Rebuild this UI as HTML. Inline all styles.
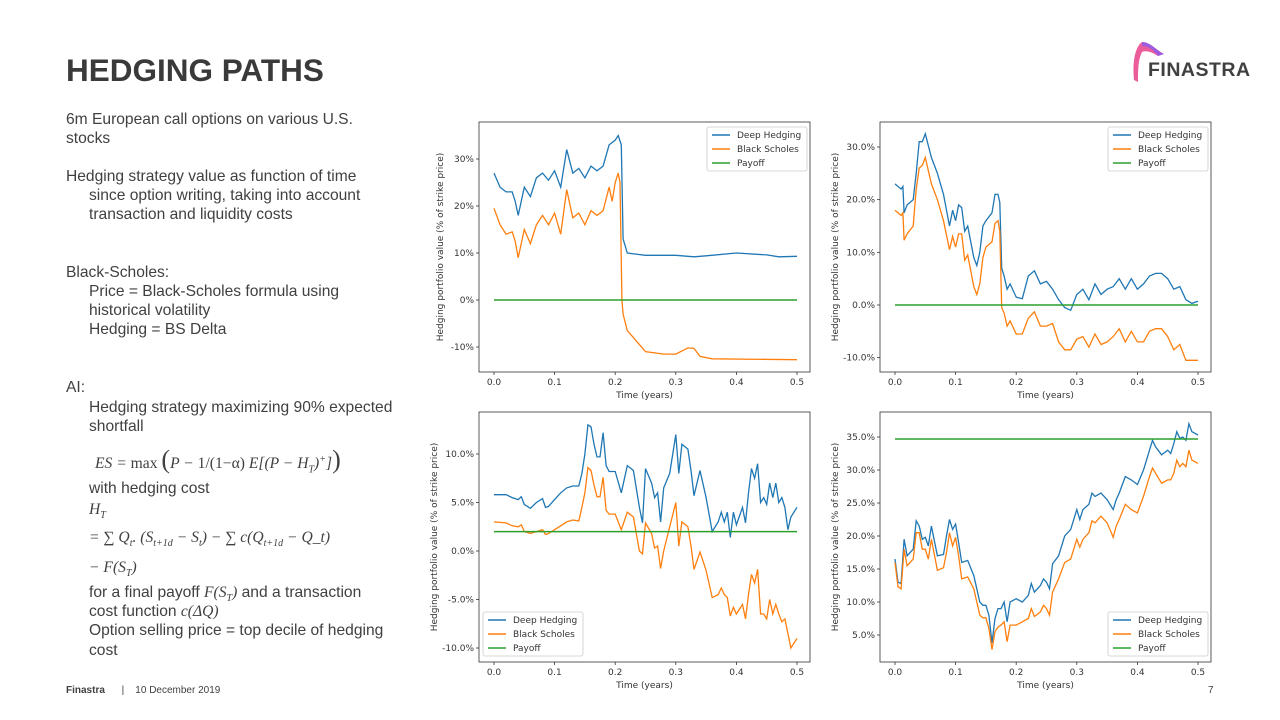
<!DOCTYPE html>
<html><head><meta charset="utf-8"><style>
body{margin:0;width:1280px;height:720px;background:#fff;position:relative;overflow:hidden;font-family:"Liberation Sans",sans-serif;color:#404040}
.t{position:absolute;font-size:15.6px;line-height:18px;white-space:nowrap}
.m{font-family:"Liberation Serif",serif;font-style:italic}
svg text{font-family:"DejaVu Sans","Liberation Sans",sans-serif}
</style></head><body>
<div style="position:absolute;left:66px;top:52px;font-size:31.5px;font-weight:bold;color:#3a3a3a">HEDGING PATHS</div>
<div style="position:absolute;left:1128px;top:40px;width:130px;height:45px">
<svg width="130" height="45"><path d="M6 40 C4 20 8 6 14 2 C22 2 28 10 36 14 L30 16 C24 12 18 10 14 12 C10 20 10 30 10 42 Z" fill="#e8408a" opacity="0.85"/><path d="M14 2 C22 2 28 10 36 14 L30 16 C26 10 20 6 14 6Z" fill="#8a5cf0" opacity="0.8"/></svg>
<div style="position:absolute;left:20px;top:19px;font-size:19.5px;font-weight:bold;color:#404040;letter-spacing:0.5px">FINASTRA</div></div>

<div>
<div class="t" style="left:66px;top:111px">6m European call options on various U.S.</div>
<div class="t" style="left:66px;top:130px">stocks</div>
<div class="t" style="left:66px;top:168px">Hedging strategy value as function of time</div>
<div class="t" style="left:89px;top:187px">since option writing, taking into account</div>
<div class="t" style="left:89px;top:206px">transaction and liquidity costs</div>
<div class="t" style="left:66px;top:264px">Black-Scholes:</div>
<div class="t" style="left:89px;top:283px">Price = Black-Scholes formula using</div>
<div class="t" style="left:89px;top:302px">historical volatility</div>
<div class="t" style="left:89px;top:321px">Hedging = BS Delta</div>
<div class="t" style="left:66px;top:379px">AI:</div>
<div class="t" style="left:89px;top:399px">Hedging strategy maximizing 90% expected</div>
<div class="t" style="left:89px;top:418px">shortfall</div>
<div class="t m" style="left:95px;top:451px">ES = <span style="font-style:normal">max</span> <span style="font-size:26px;font-style:normal">(</span>P − <span style="font-style:normal">1/(1−α)</span> E[(P − H<sub style="font-size:10px">T</sub>)<sup style="font-size:10px">+</sup>]<span style="font-size:26px;font-style:normal">)</span></div>
<div class="t" style="left:89px;top:480px">with hedging cost</div>
<div class="t m" style="left:89px;top:501px">H<sub style="font-size:10px">T</sub></div>
<div class="t m" style="left:89px;top:529px">= ∑ Q<sub style="font-size:10px">t</sub>. (S<sub style="font-size:10px">t+1d</sub> − S<sub style="font-size:10px">t</sub>) − ∑ c(Q<sub style="font-size:10px">t+1d</sub> − Q_t)</div>
<div class="t m" style="left:89px;top:559px">− F(S<sub style="font-size:10px">T</sub>)</div>
<div class="t" style="left:89px;top:584px">for a final payoff <span class="m">F(S<sub style="font-size:10px">T</sub>)</span> and a transaction</div>
<div class="t" style="left:89px;top:603px">cost function <span class="m">c(ΔQ)</span></div>
<div class="t" style="left:89px;top:622px">Option selling price = top decile of hedging</div>
<div class="t" style="left:89px;top:642px">cost</div>
</div>
<div style="position:absolute;left:66px;top:685px;font-size:10px;color:#404040"><b>Finastra</b>&nbsp;&nbsp;&nbsp;&nbsp;&nbsp;&nbsp;|&nbsp;&nbsp;&nbsp;&nbsp;10 December 2019</div>
<div style="position:absolute;left:1208px;top:685px;font-size:10px">7</div>

<svg id="charts" width="1280" height="720" style="position:absolute;left:0;top:0"></svg>
<script>
const xTicks=[0,0.1,0.2,0.3,0.4,0.5];
const c1DhT=[0,0.01,0.02,0.03,0.035,0.04,0.05,0.06,0.07,0.08,0.09,0.10,0.11,0.12,0.13,0.14,0.15,0.16,0.17,0.18,0.19,0.20,0.205,0.21,0.213,0.22,0.25,0.3,0.33,0.35,0.4,0.45,0.47,0.5];
const c1DhV=[27,24,23,23,21,18,24,22,26,27,25.5,27.5,24,32,27,28,26,28.5,27.5,28.5,33,34,35,33,13,10,9.5,9.5,9.2,9.4,10,9.6,9.2,9.3];
const c1BsT=[0,0.01,0.02,0.03,0.035,0.04,0.05,0.06,0.07,0.08,0.09,0.10,0.11,0.12,0.13,0.14,0.15,0.16,0.17,0.18,0.19,0.195,0.20,0.205,0.208,0.211,0.213,0.22,0.23,0.24,0.25,0.28,0.30,0.32,0.33,0.34,0.36,0.5];
const c1BsV=[19.5,16,14,14.5,12.5,9,15,12,16,18,16,18.5,14,23.5,17.5,18.5,16,19,18,19,24,21,25,27,25,0,-3,-6.5,-8,-9.5,-11,-11.5,-11.5,-10.2,-10.3,-12,-12.5,-12.7];
const c1Payoff=0;
const c1Ticks=[-10,0,10,20,30];
const c2T=[0,0.01,0.013,0.015,0.02,0.03,0.035,0.04,0.045,0.05,0.06,0.07,0.08,0.09,0.095,0.1,0.105,0.11,0.115,0.12,0.13,0.135,0.14,0.145,0.15,0.16,0.165,0.17,0.173,0.176,0.18,0.185,0.19,0.2,0.21,0.22,0.23,0.24,0.25,0.26,0.27,0.28,0.29,0.3,0.31,0.32,0.33,0.34,0.35,0.36,0.37,0.38,0.39,0.40,0.41,0.42,0.43,0.44,0.45,0.46,0.47,0.48,0.49,0.5];
const c2DhV=[23,22,22.5,17.5,19,20,25,31,31,32.5,28,25,21,15,18,16,19,18.5,14,15,9,7.5,10,15,16,17.5,21,21,19.5,7,5.5,3,4,1.5,1.2,5.5,6.5,4,4.5,3,1,-0.5,-1,2,3,1,4,2,3,3.5,5,3,5,3,4,5.5,6,6,5,3,3.5,1,0.3,0.7];
const c2BsV=[18,17,17.5,12.3,13.5,15,22,26,26.5,28,23,20,16,10.5,13,11,13.5,13.5,8.5,9.5,3.5,2,4,9,11,12,15.5,16,14,-0.5,-1.5,-4,-3,-5.5,-5.5,-2.5,-1.3,-4,-4,-3.5,-7,-8.5,-8.5,-6.5,-6,-8,-5.5,-7.5,-7,-6,-4.5,-7,-5,-7,-7,-5,-4.5,-4.5,-6,-8.5,-7.5,-10.5,-10.5,-10.5];
const c2Payoff=0;
const c2Ticks=[-10,0,10,20,30];
const c3T=[0,0.02,0.03,0.04,0.045,0.05,0.06,0.07,0.08,0.085,0.09,0.1,0.11,0.12,0.13,0.14,0.145,0.15,0.155,0.16,0.165,0.17,0.175,0.18,0.185,0.19,0.2,0.21,0.22,0.23,0.24,0.245,0.25,0.26,0.265,0.27,0.275,0.28,0.29,0.3,0.305,0.31,0.32,0.325,0.33,0.34,0.35,0.36,0.37,0.375,0.38,0.385,0.39,0.395,0.4,0.41,0.415,0.42,0.425,0.43,0.435,0.44,0.445,0.45,0.455,0.46,0.465,0.47,0.475,0.48,0.485,0.49,0.5];
const c3DhV=[5.8,5.8,5.5,5.3,5.6,4.8,4.4,5,5.4,4.5,4.6,5.3,6,6.5,6.7,6.7,8,10,13,12.8,11,9.7,9.7,12.2,8.8,8.2,8.2,6,8.8,8.3,4.5,2.9,8.5,7,5.5,6,3,6.5,8,12,8,11,10.5,8.3,5.7,8.3,5.5,2,3,4,3,4,1.4,4,2.7,4.5,2.9,6,8.5,7.5,9,5,5.5,4.8,7,5.5,7,5,5.5,4.5,2.2,3.5,4.5];
const c3BsV=[3,2.9,2.6,2.5,2.7,2,1.8,2,2.2,1.7,1.8,2.2,2.6,3,3.2,3.1,4.5,6,8.6,8.3,6.8,5.6,5.6,7.6,4.2,3.8,3.8,2.2,4,3.5,0,-0.3,2.9,1.8,0.3,0.5,-1.8,0,2.5,5,0.5,3,2.5,0.5,-1.9,-0.1,-2,-4.8,-4.5,-3.8,-4.5,-4.8,-6.7,-5.8,-6.5,-5.5,-7,-4.5,-2.4,-3.3,-1.9,-6.5,-6.5,-7,-5,-6.5,-5.5,-6.5,-7.3,-7,-8.5,-10,-9];
const c3Payoff=2;
const c3Ticks=[-10,-5,0,5,10];
const c4T=[0,0.005,0.01,0.015,0.02,0.03,0.035,0.04,0.045,0.05,0.055,0.06,0.07,0.08,0.085,0.09,0.095,0.1,0.105,0.11,0.12,0.13,0.14,0.145,0.15,0.155,0.16,0.165,0.17,0.175,0.18,0.185,0.19,0.2,0.21,0.22,0.225,0.23,0.24,0.245,0.25,0.255,0.26,0.27,0.28,0.29,0.3,0.305,0.31,0.32,0.325,0.33,0.34,0.35,0.36,0.365,0.37,0.38,0.39,0.4,0.41,0.42,0.425,0.43,0.44,0.45,0.455,0.46,0.465,0.47,0.475,0.48,0.485,0.49,0.5];
const c4DhV=[16.5,13,12.8,19.5,17,18,22.3,21.5,19.5,19.8,18.5,21.5,17,17.2,20,22.5,21,21.8,19,16,16.3,14,10,9.5,9.5,8,3.8,7.5,9,9,10,7,10,10.5,10,11,12.8,11.5,12.5,13.5,13,12,15.8,17,20,21,24,22.5,24,24.8,26.5,26,26.5,25.5,24,25.5,26.5,29,28.5,27.8,30,33,34.5,33.5,32.3,33,32.5,34,35.8,34.8,35,34.5,37,35.8,35.3];
const c4BsV=[16,12.3,12,18,15.5,16.5,20.5,20.5,18,18,16.5,19.5,14.8,15.2,17.5,20.5,18.5,19.8,17,13.5,13.8,12,8,7.6,7.6,6,2.8,5.5,6.2,6.5,7,4,6.5,6.5,7,7.5,9,7.8,8.5,9.5,9,8,11.5,13.5,16,16.5,19.5,18.3,19.5,20.5,22.3,22,23,22,19.8,21.5,22.5,24.8,24,23.5,26,29,30.3,29.5,28,28.5,28.5,29.5,31.5,30.5,31,30.5,33,31.5,31];
const c4Payoff=34.7;
const c4Ticks=[5,10,15,20,25,30,35];

const NS='http://www.w3.org/2000/svg';
const root=document.getElementById('charts');
function mk(tag,attrs,parent){const e=document.createElementNS(NS,tag);for(const k in attrs)e.setAttribute(k,attrs[k]);(parent||root).appendChild(e);return e;}
function txt(s,attrs,parent){const e=mk('text',attrs,parent);e.textContent=s;return e;}
function chart(id,box,yA,yB,ticks,dec,series,payoff,legendPos){
  const g=mk('g',{});
  
  
  const X=t=>box.x0+(t/0.5)*(box.x5-box.x0);
  const Y=v=>yA.py+(v-yA.v)*(yB.py-yA.py)/(yB.v-yA.v);
  const plotArea=mk('rect',{x:box.l,y:box.t,width:box.r-box.l,height:box.b-box.t,fill:'none',stroke:'#333','stroke-width':0.8},g);
  
  
  xTicks.forEach(t=>{mk('line',{x1:X(t),x2:X(t),y1:box.b,y2:box.b+3,stroke:'#333','stroke-width':0.8},g);
    const l=txt(t.toFixed(1),{x:X(t),y:box.b+13,'font-size':9,'text-anchor':'middle',fill:'#333'},g);
    
    });
  ticks.forEach(v=>{mk('line',{x1:box.l-3,x2:box.l,y1:Y(v),y2:Y(v),stroke:'#333','stroke-width':0.8},g);
    const l=txt(v.toFixed(dec)+'%',{x:box.l-5,y:Y(v)+3,'font-size':9,'text-anchor':'end',fill:'#333'},g);
    
    });
  const xt=txt('Time (years)',{x:(box.l+box.r)/2,y:box.b+26,'font-size':9,'text-anchor':'middle',fill:'#333'},g);
  
  
  const yx=box.l-(dec?42:36),yc=(box.t+box.b)/2;
  const yt=txt('Hedging portfolio value (% of strike price)',{x:yx,y:yc,'font-size':9,'text-anchor':'middle',fill:'#333',transform:`rotate(-90 ${yx} ${yc})`},g);
  
  
  series.forEach(s=>{const p=s.t.map((t,i)=>X(t).toFixed(1)+','+Y(s.v[i]).toFixed(1)).join(' ');
    const pl=mk('polyline',{points:p,fill:'none',stroke:s.c,'stroke-width':1.3},g);
    
    });
  const pf=mk('line',{x1:X(0),x2:X(0.5),y1:Y(payoff),y2:Y(payoff),stroke:'#2ca02c','stroke-width':1.5},g);
  
  
  const lg=mk('g',{},g);
  
  
  mk('rect',{x:legendPos.x,y:legendPos.y,width:100,height:44,rx:2,fill:'#fff',stroke:'#ccc','stroke-width':0.8},lg);
  [['Deep Hedging','#1f77b4'],['Black Scholes','#ff7f0e'],['Payoff','#2ca02c']].forEach((e,i)=>{
    const yy=legendPos.y+8+i*14;
    mk('line',{x1:legendPos.x+5,x2:legendPos.x+23,y1:yy,y2:yy,stroke:e[1],'stroke-width':1.5},lg);
    const l=txt(e[0],{x:legendPos.x+30,y:yy+3,'font-size':9,fill:'#333'},lg);
    
    });
}
chart('chart-top-left',{l:479,r:810,t:122,b:372,x0:494,x5:797},{v:0,py:300},{v:30,py:159},c1Ticks,0,
 [{t:c1DhT,v:c1DhV,c:'#1f77b4',n:'deep-hedging-line'},{t:c1BsT,v:c1BsV,c:'#ff7f0e',n:'black-scholes-line'}],c1Payoff,{x:707,y:127});
chart('chart-top-right',{l:880,r:1211,t:122,b:372,x0:895,x5:1198},{v:0,py:305},{v:30,py:147},c2Ticks,1,
 [{t:c2T,v:c2DhV,c:'#1f77b4',n:'deep-hedging-line'},{t:c2T,v:c2BsV,c:'#ff7f0e',n:'black-scholes-line'}],c2Payoff,{x:1108,y:127});
chart('chart-bottom-left',{l:479,r:810,t:412,b:662,x0:494,x5:797},{v:0,py:551},{v:10,py:454},c3Ticks,1,
 [{t:c3T,v:c3DhV,c:'#1f77b4',n:'deep-hedging-line'},{t:c3T,v:c3BsV,c:'#ff7f0e',n:'black-scholes-line'}],c3Payoff,{x:483,y:612});
chart('chart-bottom-right',{l:880,r:1211,t:412,b:662,x0:895,x5:1198},{v:5,py:635},{v:35,py:437},c4Ticks,1,
 [{t:c4T,v:c4DhV,c:'#1f77b4',n:'deep-hedging-line'},{t:c4T,v:c4BsV,c:'#ff7f0e',n:'black-scholes-line'}],c4Payoff,{x:1108,y:612});
</script>
</body></html>
